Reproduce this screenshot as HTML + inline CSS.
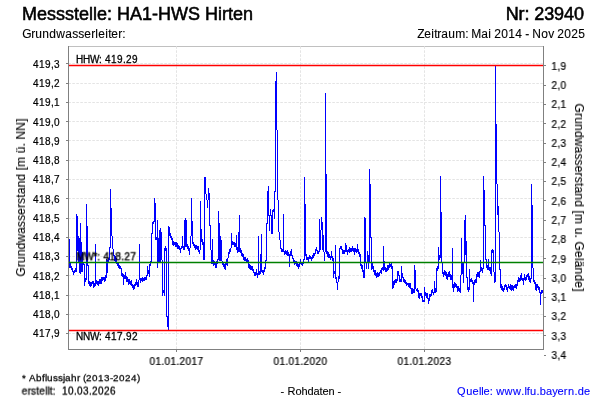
<!DOCTYPE html>
<html lang="de"><head><meta charset="utf-8"><title>Messstelle: HA1-HWS Hirten</title>
<style>html,body{margin:0;padding:0;background:#fff;}body{width:600px;height:400px;overflow:hidden;}svg{display:block;will-change:transform;}text{will-change:transform;}text{font-family:'Liberation Sans', Arial, sans-serif;}</style></head><body>
<svg width="600" height="400" viewBox="0 0 600 400">
<rect x="0" y="0" width="600" height="400" fill="#ffffff"/>
<text transform="translate(22,20)" font-size="18" fill="#000" stroke="#000" stroke-width="0.55" x="0 15 25 34 43 52 57 67 71 75 85 90 95 108 120 130 136 149 166 178 183 196 200 206 211 221" xml:space="preserve">Messstelle: HA1-HWS Hirten</text>
<text transform="translate(505.7,20)" font-size="18" fill="#000" stroke="#000" stroke-width="0.55" x="0 12.9 18.8 23.7 28.6 38.5 48.4 58.3 68.2" xml:space="preserve">Nr: 23940</text>
<text transform="translate(22.3,37.6)" font-size="12" fill="#000" stroke="#000" stroke-width="0.12" x="0 9 13 20 27 34 43 50 56 62 69 73 76 83 86 89 96 100" xml:space="preserve">Grundwasserleiter:</text>
<text transform="translate(417.2,37.6)" font-size="12" fill="#000" stroke="#000" stroke-width="0.12" x="0 7 14 17 20 24 31 38 48 51 54 64 71 74 77 84 91 98 105 108 112 115 124 131 137 140 147 154 161" xml:space="preserve">Zeitraum: Mai 2014 - Nov 2025</text>
<g shape-rendering="crispEdges">
<rect x="68.5" y="46.5" width="475" height="303" fill="#fff" stroke="#c0c0c0" stroke-width="1"/>
</g>
<g stroke="#e4e4e4" stroke-width="1" stroke-dasharray="2.6 1.4">
<line x1="68.3" y1="63.5" x2="543" y2="63.5"/>
<line x1="68.3" y1="83.5" x2="543" y2="83.5"/>
<line x1="68.3" y1="102.5" x2="543" y2="102.5"/>
<line x1="68.3" y1="121.5" x2="543" y2="121.5"/>
<line x1="68.3" y1="140.5" x2="543" y2="140.5"/>
<line x1="68.3" y1="160.5" x2="543" y2="160.5"/>
<line x1="68.3" y1="179.5" x2="543" y2="179.5"/>
<line x1="68.3" y1="198.5" x2="543" y2="198.5"/>
<line x1="68.3" y1="218.5" x2="543" y2="218.5"/>
<line x1="68.3" y1="237.5" x2="543" y2="237.5"/>
<line x1="68.3" y1="256.5" x2="543" y2="256.5"/>
<line x1="68.3" y1="275.5" x2="543" y2="275.5"/>
<line x1="68.3" y1="295.5" x2="543" y2="295.5"/>
<line x1="68.3" y1="314.5" x2="543" y2="314.5"/>
<line x1="68.3" y1="333.5" x2="543" y2="333.5"/>
<line x1="176.5" y1="46.3" x2="176.5" y2="349"/>
<line x1="300.5" y1="46.3" x2="300.5" y2="349"/>
<line x1="424.5" y1="46.3" x2="424.5" y2="349"/>
</g>
<path fill="none" stroke="#0000ff" stroke-width="1" d="M69.5 239V268M70.5 262V268M71.5 266V270M72.5 268V272M73.5 271V275M74.5 270V273M75.5 268V272M76.5 214V272M77.5 216V251M78.5 236V262M79.5 238V273M80.5 223V274M81.5 242V272M82.5 252V272M83.5 262V265M84.5 264V286M85.5 278V282M86.5 204V280M87.5 226V266M88.5 265V284M89.5 281V286M90.5 282V287M91.5 282V286M92.5 281V284M93.5 281V288M94.5 283V287M95.5 244V286M96.5 280V284M97.5 281V285M98.5 281V286M99.5 279V284M100.5 279V284M101.5 277V284M102.5 277V281M103.5 277V280M104.5 277V282M105.5 275V281M106.5 259V278M107.5 260V273M108.5 258V262M109.5 247V260M110.5 189V248M111.5 208V236M112.5 236V249M113.5 249V256M114.5 255V261M115.5 256V262M116.5 258V264M117.5 262V266M118.5 263V268M119.5 265V269M120.5 266V269M121.5 268V276M122.5 273V277M123.5 274V285M124.5 275V279M125.5 272V279M126.5 276V282M127.5 277V282M128.5 279V285M129.5 279V284M130.5 281V285M131.5 280V286M132.5 284V288M133.5 285V290M134.5 284V289M135.5 282V286M136.5 279V285M137.5 282V287M138.5 280V287M139.5 244V280M140.5 278V283M141.5 278V281M142.5 277V282M143.5 278V281M144.5 277V281M145.5 277V280M146.5 275V280M147.5 266V276M148.5 270V274M149.5 264V277M150.5 261V266M151.5 233V262M152.5 222V234M153.5 221V224M154.5 198V222M155.5 203V240M156.5 237V240M157.5 220V268M158.5 238V262M159.5 230V262M160.5 228V262M161.5 232V260M162.5 260V296M163.5 290V293M164.5 248V296M165.5 246V251M166.5 248V317M167.5 316V327M168.5 226V330M169.5 227V236M170.5 233V238M171.5 236V240M172.5 238V245M173.5 241V246M174.5 242V245M175.5 242V247M176.5 242V247M177.5 243V249M178.5 245V249M179.5 246V250M180.5 248V253M181.5 246V249M182.5 236V248M183.5 246V250M184.5 220V250M185.5 218V247M186.5 220V247M187.5 244V249M188.5 246V251M189.5 248V255M190.5 236V248M191.5 198V236M192.5 221V244M193.5 242V246M194.5 244V248M195.5 245V250M196.5 245V249M197.5 246V250M198.5 246V252M199.5 250V254M200.5 201V250M201.5 229V242M202.5 239V245M203.5 242V260M204.5 177V260M205.5 177V194M206.5 194V200M207.5 200V208M208.5 188V200M209.5 193V226M210.5 225V250M211.5 250V264M212.5 239V264M213.5 260V266M214.5 261V265M215.5 262V268M216.5 261V268M217.5 259V264M218.5 211V260M219.5 223V261M220.5 236V261M221.5 240V261M222.5 261V265M223.5 263V267M224.5 264V269M225.5 262V270M226.5 259V265M227.5 258V266M228.5 252V258M229.5 249V254M230.5 248V252M231.5 233V248M232.5 241V245M233.5 242V245M234.5 242V247M235.5 243V247M236.5 235V250M237.5 247V253M238.5 232V252M239.5 215V252M240.5 248V253M241.5 250V256M242.5 253V257M243.5 254V260M244.5 257V261M245.5 257V261M246.5 259V263M247.5 258V263M248.5 260V268M249.5 264V269M250.5 265V270M251.5 266V270M252.5 266V271M253.5 269V273M254.5 272V276M255.5 272V276M256.5 269V275M257.5 273V278M258.5 236V275M259.5 271V275M260.5 254V274M261.5 234V272M262.5 270V273M263.5 270V275M264.5 267V272M265.5 260V269M266.5 223V261M267.5 191V224M268.5 186V216M269.5 215V231M270.5 209V216M271.5 215V234M272.5 210V234M273.5 209V212M274.5 191V219M275.5 81V192M276.5 72V130M277.5 130V200M278.5 200V232M279.5 232V240M280.5 240V249M281.5 248V252M282.5 249V252M283.5 214V252M284.5 251V255M285.5 250V254M286.5 251V255M287.5 250V256M288.5 252V256M289.5 254V267M290.5 251V256M291.5 249V256M292.5 255V259M293.5 258V262M294.5 260V265M295.5 261V264M296.5 261V266M297.5 263V267M298.5 264V269M299.5 263V267M300.5 259V264M301.5 263V265M302.5 263V266M303.5 259V264M304.5 177V260M305.5 204V256M306.5 254V260M307.5 257V260M308.5 257V262M309.5 255V259M310.5 256V259M311.5 257V261M312.5 255V259M313.5 253V258M314.5 253V256M315.5 249V254M316.5 247V251M317.5 250V254M318.5 251V254M319.5 219V252M320.5 230V250M321.5 217V230M322.5 222V250M323.5 235V252M324.5 252V261M325.5 93V252M326.5 174V254M327.5 251V257M328.5 252V258M329.5 254V258M330.5 256V260M331.5 251V258M332.5 256V261M333.5 258V278M334.5 271V274M335.5 245V279M336.5 277V283M337.5 282V290M338.5 276V282M339.5 248V279M340.5 246V249M341.5 246V250M342.5 249V254M343.5 250V254M344.5 250V254M345.5 243V252M346.5 245V252M347.5 250V255M348.5 249V252M349.5 247V253M350.5 248V252M351.5 248V252M352.5 246V251M353.5 248V252M354.5 248V255M355.5 248V252M356.5 249V253M357.5 244V252M358.5 249V254M359.5 252V257M360.5 254V266M361.5 264V269M362.5 265V272M363.5 270V278M364.5 217V278M365.5 218V262M366.5 262V269M367.5 251V262M368.5 255V269M369.5 169V262M370.5 184V238M371.5 237V270M372.5 263V269M373.5 266V272M374.5 270V275M375.5 270V276M376.5 273V278M377.5 272V277M378.5 273V277M379.5 272V276M380.5 270V273M381.5 268V274M382.5 267V270M383.5 246V271M384.5 261V270M385.5 267V272M386.5 268V272M387.5 265V271M388.5 265V270M389.5 263V268M390.5 264V267M391.5 263V269M392.5 266V289M393.5 281V288M394.5 280V285M395.5 279V283M396.5 279V283M397.5 271V281M398.5 271V276M399.5 275V282M400.5 279V282M401.5 266V282M402.5 273V278M403.5 277V282M404.5 279V283M405.5 280V284M406.5 282V286M407.5 283V285M408.5 283V287M409.5 283V288M410.5 283V289M411.5 288V294M412.5 288V294M413.5 289V293M414.5 265V293M415.5 270V289M416.5 289V291M417.5 288V292M418.5 290V298M419.5 293V299M420.5 293V296M421.5 293V298M422.5 296V302M423.5 300V302M424.5 287V302M425.5 292V296M426.5 293V298M427.5 293V299M428.5 298V304M429.5 294V301M430.5 294V297M431.5 290V296M432.5 289V293M433.5 292V295M434.5 281V293M435.5 288V293M436.5 268V292M437.5 266V271M438.5 247V269M439.5 255V260M440.5 176V258M441.5 212V262M442.5 262V274M443.5 272V277M444.5 270V275M445.5 271V276M446.5 272V279M447.5 274V280M448.5 272V277M449.5 271V277M450.5 274V280M451.5 275V280M452.5 248V288M453.5 284V292M454.5 282V288M455.5 283V287M456.5 284V288M457.5 286V292M458.5 286V291M459.5 288V292M460.5 275V293M461.5 238V275M462.5 262V274M463.5 262V283M464.5 220V262M465.5 215V255M466.5 241V278M467.5 277V290M468.5 287V292M469.5 269V290M470.5 279V282M471.5 278V282M472.5 280V284M473.5 282V302M474.5 280V285M475.5 279V283M476.5 274V283M477.5 272V277M478.5 272V277M479.5 271V278M480.5 260V272M481.5 267V271M482.5 268V273M483.5 176V269M484.5 190V226M485.5 225V260M486.5 259V268M487.5 265V270M488.5 259V270M489.5 267V271M490.5 267V274M491.5 250V276M492.5 249V253M493.5 250V272M494.5 272V283M495.5 66V282M496.5 124V184M497.5 184V215M498.5 206V232M499.5 232V270M500.5 269V288M501.5 284V290M502.5 286V291M503.5 288V292M504.5 285V290M505.5 284V287M506.5 285V290M507.5 287V292M508.5 284V288M509.5 286V289M510.5 284V290M511.5 285V291M512.5 285V290M513.5 286V291M514.5 285V288M515.5 284V288M516.5 284V289M517.5 280V286M518.5 277V282M519.5 278V282M520.5 275V281M521.5 273V280M522.5 278V281M523.5 278V285M524.5 274V280M525.5 277V281M526.5 275V280M527.5 274V277M528.5 273V280M529.5 276V282M530.5 278V283M531.5 184V279M532.5 205V268M533.5 268V282M534.5 280V284M535.5 282V290M536.5 284V291M537.5 284V288M538.5 286V290M539.5 287V293M540.5 292V305M541.5 290V294M542.5 290V293"/>
<g>
<line x1="69" y1="65.5" x2="543" y2="65.5" stroke="#ff0000" stroke-width="1.5"/>
<line x1="69" y1="330.5" x2="543" y2="330.5" stroke="#ff0000" stroke-width="1.5"/>
<line x1="69" y1="262.5" x2="543" y2="262.5" stroke="#008000" stroke-width="1.5"/>
</g>
<text transform="translate(76,63) skewX(0.05)" font-size="10" fill="#000" stroke="#000" stroke-width="0.28" x="0 7 14 23 26 29 35 41 47 50 56" xml:space="preserve">HHW: 419.29</text>
<text transform="translate(76.4,260.3) skewX(0.05)" font-size="10" fill="#000" stroke="#000" stroke-width="0.4" x="0 8 17 21 24 27 33 39 45 48 54" xml:space="preserve">MW*: 418.27</text>
<text transform="translate(76,340) skewX(0.05)" font-size="10" fill="#000" stroke="#000" stroke-width="0.28" x="0 7 14 23 26 29 35 41 47 50 56" xml:space="preserve">NNW: 417.92</text>
<g stroke="#808080" stroke-width="1" shape-rendering="crispEdges">
<line x1="68.5" y1="46" x2="68.5" y2="350"/>
<line x1="543.5" y1="46" x2="543.5" y2="350"/>
<line x1="68" y1="349.5" x2="544" y2="349.5"/>
<line x1="66" y1="63.5" x2="68" y2="63.5"/>
<line x1="66" y1="83.5" x2="68" y2="83.5"/>
<line x1="66" y1="102.5" x2="68" y2="102.5"/>
<line x1="66" y1="121.5" x2="68" y2="121.5"/>
<line x1="66" y1="140.5" x2="68" y2="140.5"/>
<line x1="66" y1="160.5" x2="68" y2="160.5"/>
<line x1="66" y1="179.5" x2="68" y2="179.5"/>
<line x1="66" y1="198.5" x2="68" y2="198.5"/>
<line x1="66" y1="218.5" x2="68" y2="218.5"/>
<line x1="66" y1="237.5" x2="68" y2="237.5"/>
<line x1="66" y1="256.5" x2="68" y2="256.5"/>
<line x1="66" y1="275.5" x2="68" y2="275.5"/>
<line x1="66" y1="295.5" x2="68" y2="295.5"/>
<line x1="66" y1="314.5" x2="68" y2="314.5"/>
<line x1="66" y1="333.5" x2="68" y2="333.5"/>
<line x1="544" y1="65.5" x2="546" y2="65.5"/>
<line x1="544" y1="85.5" x2="546" y2="85.5"/>
<line x1="544" y1="104.5" x2="546" y2="104.5"/>
<line x1="544" y1="123.5" x2="546" y2="123.5"/>
<line x1="544" y1="143.5" x2="546" y2="143.5"/>
<line x1="544" y1="162.5" x2="546" y2="162.5"/>
<line x1="544" y1="181.5" x2="546" y2="181.5"/>
<line x1="544" y1="200.5" x2="546" y2="200.5"/>
<line x1="544" y1="220.5" x2="546" y2="220.5"/>
<line x1="544" y1="239.5" x2="546" y2="239.5"/>
<line x1="544" y1="258.5" x2="546" y2="258.5"/>
<line x1="544" y1="278.5" x2="546" y2="278.5"/>
<line x1="544" y1="297.5" x2="546" y2="297.5"/>
<line x1="544" y1="316.5" x2="546" y2="316.5"/>
<line x1="544" y1="335.5" x2="546" y2="335.5"/>
<line x1="544" y1="355.5" x2="546" y2="355.5"/>
<line x1="176.5" y1="350" x2="176.5" y2="352"/>
<line x1="300.5" y1="350" x2="300.5" y2="352"/>
<line x1="424.5" y1="350" x2="424.5" y2="352"/>
</g>
<text transform="translate(33,68) skewX(0.05)" font-size="10" fill="#000" stroke="#000" stroke-width="0.22" x="0 6 12 18 21" xml:space="preserve">419,3</text>
<text transform="translate(33,87) skewX(0.05)" font-size="10" fill="#000" stroke="#000" stroke-width="0.22" x="0 6 12 18 21" xml:space="preserve">419,2</text>
<text transform="translate(33,106) skewX(0.05)" font-size="10" fill="#000" stroke="#000" stroke-width="0.22" x="0 6 12 18 21" xml:space="preserve">419,1</text>
<text transform="translate(33,126) skewX(0.05)" font-size="10" fill="#000" stroke="#000" stroke-width="0.22" x="0 6 12 18 21" xml:space="preserve">419,0</text>
<text transform="translate(33,145) skewX(0.05)" font-size="10" fill="#000" stroke="#000" stroke-width="0.22" x="0 6 12 18 21" xml:space="preserve">418,9</text>
<text transform="translate(33,164) skewX(0.05)" font-size="10" fill="#000" stroke="#000" stroke-width="0.22" x="0 6 12 18 21" xml:space="preserve">418,8</text>
<text transform="translate(33,183) skewX(0.05)" font-size="10" fill="#000" stroke="#000" stroke-width="0.22" x="0 6 12 18 21" xml:space="preserve">418,7</text>
<text transform="translate(33,203) skewX(0.05)" font-size="10" fill="#000" stroke="#000" stroke-width="0.22" x="0 6 12 18 21" xml:space="preserve">418,6</text>
<text transform="translate(33,222) skewX(0.05)" font-size="10" fill="#000" stroke="#000" stroke-width="0.22" x="0 6 12 18 21" xml:space="preserve">418,5</text>
<text transform="translate(33,241) skewX(0.05)" font-size="10" fill="#000" stroke="#000" stroke-width="0.22" x="0 6 12 18 21" xml:space="preserve">418,4</text>
<text transform="translate(33,260) skewX(0.05)" font-size="10" fill="#000" stroke="#000" stroke-width="0.22" x="0 6 12 18 21" xml:space="preserve">418,3</text>
<text transform="translate(33,280) skewX(0.05)" font-size="10" fill="#000" stroke="#000" stroke-width="0.22" x="0 6 12 18 21" xml:space="preserve">418,2</text>
<text transform="translate(33,299) skewX(0.05)" font-size="10" fill="#000" stroke="#000" stroke-width="0.22" x="0 6 12 18 21" xml:space="preserve">418,1</text>
<text transform="translate(33,318) skewX(0.05)" font-size="10" fill="#000" stroke="#000" stroke-width="0.22" x="0 6 12 18 21" xml:space="preserve">418,0</text>
<text transform="translate(33,337) skewX(0.05)" font-size="10" fill="#000" stroke="#000" stroke-width="0.22" x="0 6 12 18 21" xml:space="preserve">417,9</text>
<text transform="translate(551.5,70) skewX(0.05)" font-size="10" fill="#000" stroke="#000" stroke-width="0.22" x="0 6 9" xml:space="preserve">1,9</text>
<text transform="translate(551.5,89) skewX(0.05)" font-size="10" fill="#000" stroke="#000" stroke-width="0.22" x="0 6 9" xml:space="preserve">2,0</text>
<text transform="translate(551.5,108) skewX(0.05)" font-size="10" fill="#000" stroke="#000" stroke-width="0.22" x="0 6 9" xml:space="preserve">2,1</text>
<text transform="translate(551.5,128) skewX(0.05)" font-size="10" fill="#000" stroke="#000" stroke-width="0.22" x="0 6 9" xml:space="preserve">2,2</text>
<text transform="translate(551.5,147) skewX(0.05)" font-size="10" fill="#000" stroke="#000" stroke-width="0.22" x="0 6 9" xml:space="preserve">2,3</text>
<text transform="translate(551.5,166) skewX(0.05)" font-size="10" fill="#000" stroke="#000" stroke-width="0.22" x="0 6 9" xml:space="preserve">2,4</text>
<text transform="translate(551.5,185) skewX(0.05)" font-size="10" fill="#000" stroke="#000" stroke-width="0.22" x="0 6 9" xml:space="preserve">2,5</text>
<text transform="translate(551.5,205) skewX(0.05)" font-size="10" fill="#000" stroke="#000" stroke-width="0.22" x="0 6 9" xml:space="preserve">2,6</text>
<text transform="translate(551.5,224) skewX(0.05)" font-size="10" fill="#000" stroke="#000" stroke-width="0.22" x="0 6 9" xml:space="preserve">2,7</text>
<text transform="translate(551.5,243) skewX(0.05)" font-size="10" fill="#000" stroke="#000" stroke-width="0.22" x="0 6 9" xml:space="preserve">2,8</text>
<text transform="translate(551.5,263) skewX(0.05)" font-size="10" fill="#000" stroke="#000" stroke-width="0.22" x="0 6 9" xml:space="preserve">2,9</text>
<text transform="translate(551.5,282) skewX(0.05)" font-size="10" fill="#000" stroke="#000" stroke-width="0.22" x="0 6 9" xml:space="preserve">3,0</text>
<text transform="translate(551.5,301) skewX(0.05)" font-size="10" fill="#000" stroke="#000" stroke-width="0.22" x="0 6 9" xml:space="preserve">3,1</text>
<text transform="translate(551.5,320) skewX(0.05)" font-size="10" fill="#000" stroke="#000" stroke-width="0.22" x="0 6 9" xml:space="preserve">3,2</text>
<text transform="translate(551.5,340) skewX(0.05)" font-size="10" fill="#000" stroke="#000" stroke-width="0.22" x="0 6 9" xml:space="preserve">3,3</text>
<text transform="translate(551.5,359) skewX(0.05)" font-size="10" fill="#000" stroke="#000" stroke-width="0.22" x="0 6 9" xml:space="preserve">3,4</text>
<text transform="translate(149.5,365) skewX(0.05)" font-size="10" fill="#000" stroke="#000" stroke-width="0.22" x="0 6 12 15 21 27 30 36 42 48" xml:space="preserve">01.01.2017</text>
<text transform="translate(273.5,365) skewX(0.05)" font-size="10" fill="#000" stroke="#000" stroke-width="0.22" x="0 6 12 15 21 27 30 36 42 48" xml:space="preserve">01.01.2020</text>
<text transform="translate(397.5,365) skewX(0.05)" font-size="10" fill="#000" stroke="#000" stroke-width="0.22" x="0 6 12 15 21 27 30 36 42 48" xml:space="preserve">01.01.2023</text>
<text transform="translate(25,276.6) rotate(-90)" font-size="12" fill="#000" stroke="#000" stroke-width="0.12" textLength="158" lengthAdjust="spacing">Grundwasserstand [m ü. NN]</text>
<text transform="translate(575,103.5) rotate(90)" font-size="12" fill="#000" stroke="#000" stroke-width="0.12" textLength="188" lengthAdjust="spacing">Grundwasserstand [m u. Gelände]</text>
<text transform="translate(22,381.2) skewX(0.05)" font-size="9.9" fill="#000" stroke="#000" stroke-width="0.26" x="0 4 7 14 20 23 25 31 36 41 43 49 55 58 61 64 70 76 82 88 91 97 103 109 115" xml:space="preserve">* Abflussjahr (2013-2024)</text>
<text transform="translate(21.7,394.6) skewX(0.05)" font-size="10" fill="#000" stroke="#000" stroke-width="0.28" x="0 6.1 9.2 14.4 17.5 23.6 25.8 27.9 31" xml:space="preserve">erstellt:</text>
<text transform="translate(62,394.6) skewX(0.05)" font-size="10" fill="#000" stroke="#000" stroke-width="0.28" x="0 6 12 15 21 27 30 36 42 48" xml:space="preserve">10.03.2026</text>
<text transform="translate(280.5,394.6)" font-size="11" fill="#000" stroke="#000" stroke-width="0.12" x="0 4 7 15 21 27 33 39 42 48 54 57" xml:space="preserve">- Rohdaten -</text>
<text transform="translate(457,394.5)" font-size="11" fill="#0000ff" stroke="#0000ff" stroke-width="0.12" x="0 9.3 15.6 21.9 24.2 26.5 32.8 36 39.3 47.6 55.9 64.2 67.5 69.8 73.1 79.4 82.7 89 95.2 100.5 106.8 111.1 117.4 120.7 127" xml:space="preserve">Quelle: www.lfu.bayern.de</text>
</svg></body></html>
